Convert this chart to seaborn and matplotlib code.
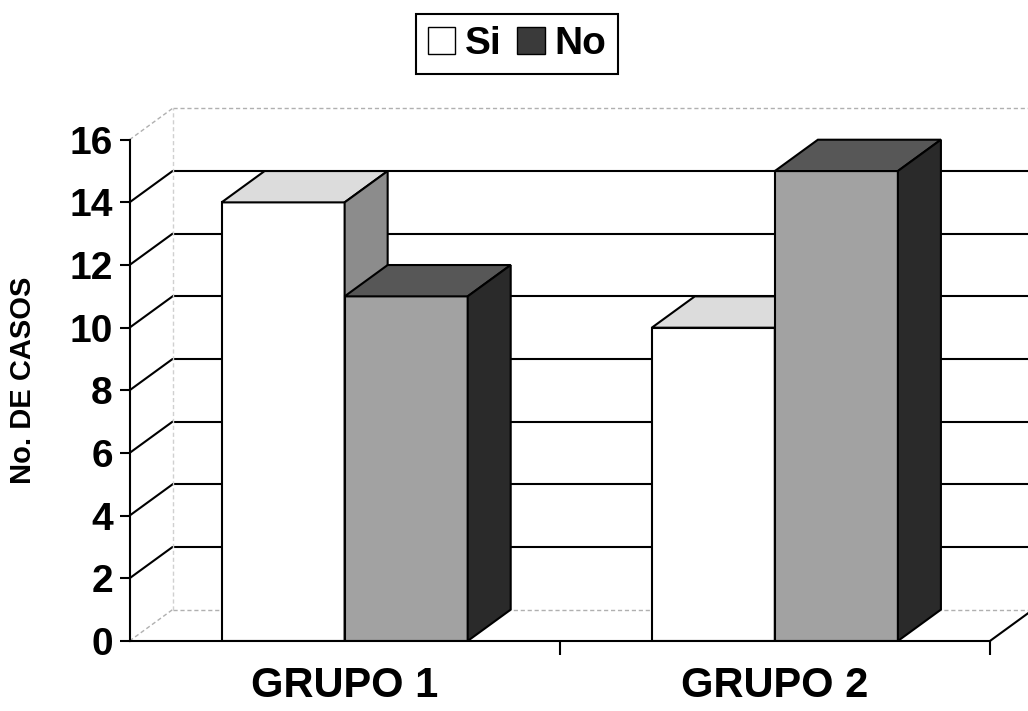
import matplotlib
matplotlib.use("Agg")
import matplotlib.pyplot as plt
import seaborn as sns
import pandas as pd
from matplotlib.patches import Polygon, Patch

# -------------------------------
# Data
# -------------------------------
grupos = ["GRUPO 1", "GRUPO 2"]
respuestas = ["Si", "No"]
casos_si = [14, 10]
casos_no = [11, 15]
y_ticks = list(range(0, 17, 2))

df = pd.DataFrame({
    "grupo": grupos * 2,
    "respuesta": ["Si"] * len(grupos) + ["No"] * len(grupos),
    "casos": casos_si + casos_no,
})

# colours of the three faces (front, top, side)
caras = {
    "Si": ("white", "#dcdcdc", "#8c8c8c"),
    "No": ("#a2a2a2", "#575757", "#2a2a2a"),
}
dx, dy = 0.1, 1.0  # depth offset of the fake 3D

sns.set_style("white")
plt.rcParams["font.family"] = ["Liberation Sans", "DejaVu Sans"]
plt.rcParams.update({"text.color": "black", "axes.labelcolor": "black",
                     "xtick.color": "black", "ytick.color": "black"})

fig = plt.figure(figsize=(10.28, 7.11), dpi=100)
ax = fig.add_axes([0.126, 0.0985, 0.837, 0.705])

sns.barplot(
    data=df, x="grupo", y="casos", hue="respuesta", hue_order=respuestas,
    palette={r: caras[r][0] for r in respuestas}, saturation=1,
    width=0.572, edgecolor="black", linewidth=1.5, legend=False, ax=ax,
)

# top and side faces
for z, (resp, cont) in enumerate(zip(respuestas, ax.containers)):
    frente, arriba, lado = caras[resp]
    for bar in cont:
        x0 = bar.get_x()
        x1 = x0 + bar.get_width()
        h = bar.get_height()
        bar.set_zorder(3 + z)
        top = Polygon([(x0, h), (x1, h), (x1 + dx, h + dy), (x0 + dx, h + dy)],
                      closed=True, facecolor=arriba, edgecolor="black",
                      linewidth=1.5, zorder=3 + z, clip_on=False)
        side = Polygon([(x1, 0), (x1, h), (x1 + dx, h + dy), (x1 + dx, dy)],
                       closed=True, facecolor=lado, edgecolor="black",
                       linewidth=1.5, zorder=3 + z, clip_on=False)
        ax.add_patch(top)
        ax.add_patch(side)

# back wall grid lines + diagonals from the front axis
x_left, x_right = -0.5, 1.5
for k in y_ticks:
    if k in (0, y_ticks[-1]):
        kw = dict(color="#b0b0b0", lw=1.0, ls=(0, (3, 2)))
    else:
        kw = dict(color="black", lw=1.5, ls="-")
    ax.plot([x_left, x_left + dx], [k, k + dy], zorder=1, clip_on=False, **kw)
    ax.plot([x_left + dx, x_right + dx], [k + dy, k + dy], zorder=1, clip_on=False, **kw)
ax.plot([x_left + dx, x_left + dx], [dy, y_ticks[-1] + dy], color="#d0d0d0",
        lw=1.0, ls=(0, (3, 2)), zorder=1, clip_on=False)
ax.plot([x_right, x_right + dx], [0, dy], color="black", lw=1.5, zorder=1, clip_on=False)

# axes
ax.set_xlim(x_left, x_right)
ax.set_ylim(0, 16)
ax.set_yticks(y_ticks)
ax.set_yticklabels([str(t) for t in y_ticks], fontsize=28, fontweight="bold")
ax.tick_params(axis="y", length=7, width=1.5, direction="out", pad=5, left=True)

ax.set_xticks(range(len(grupos)))
ax.set_xticklabels(grupos, fontsize=30, fontweight="bold")
ax.set_xticks([0.5, 1.5], minor=True)
ax.tick_params(axis="x", which="major", length=0, pad=18)
ax.tick_params(axis="x", which="minor", length=10, width=1.5, direction="out", bottom=True)

ax.set_xlabel("")
ax.set_ylabel("No. DE CASOS", fontsize=21, fontweight="bold")
ax.yaxis.set_label_coords(-0.107, 0.52)

sns.despine(ax=ax, top=True, right=True)
for s in ("left", "bottom"):
    ax.spines[s].set_linewidth(1.5)
    ax.spines[s].set_color("black")
    ax.spines[s].set_zorder(6)

# legend
handles = [Patch(facecolor=caras[r][0] if r == "Si" else "#3a3a3a",
                 edgecolor="black", label=r) for r in respuestas]
leg = fig.legend(handles=handles, loc="center", bbox_to_anchor=(0.503, 0.938),
                 ncol=2, frameon=True, fancybox=False, edgecolor="black",
                 prop=dict(weight="bold", size=28), handlelength=0.7,
                 handleheight=0.7, handletextpad=0.25, columnspacing=0.4,
                 borderpad=0.3, framealpha=1)
leg.get_frame().set_linewidth(1.5)

fig.savefig("out.png", dpi=100)
